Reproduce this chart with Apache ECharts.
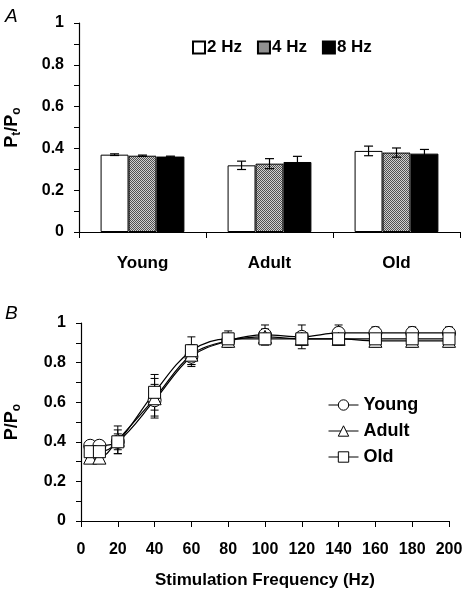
<!DOCTYPE html>
<html><head><meta charset="utf-8">
<script src="https://cdn.jsdelivr.net/npm/echarts@6/dist/echarts.min.js"></script>
<style>html,body{margin:0;padding:0;background:#fff}#c{width:464px;height:591px}</style>
</head><body><div id="c"></div>
<script>
// Panel A data
const groups = ['Young', 'Adult', 'Old'];
const hz2 = [0.370, 0.319, 0.388];
const err2 = [0.004, 0.020, 0.023];
const hz4 = [0.365, 0.327, 0.380];
const err4 = [0.003, 0.024, 0.022];
const hz8 = [0.361, 0.335, 0.375];
const err8 = [0.002, 0.027, 0.020];
const barNames = ['2 Hz', '4 Hz', '8 Hz'];

// Panel B data
const freq = [5, 10, 20, 40, 60, 80, 100, 120, 140, 160, 180, 200];
const young = [0.38, 0.38, 0.40, 0.61, 0.83, 0.91, 0.94, 0.93, 0.95, 0.95, 0.95, 0.95];
const youngErr = [0.02, 0.02, 0.06, 0.08, 0.05, 0.03, 0.05, 0.06, 0.04, 0.03, 0.03, 0.03];
const adult = [0.32, 0.32, 0.41, 0.62, 0.84, 0.91, 0.93, 0.92, 0.92, 0.91, 0.91, 0.91];
const adultErr = [0.02, 0.02, 0.07, 0.10, 0.05, 0.03, 0.04, 0.03, 0.03, 0.03, 0.03, 0.03];
const old = [0.35, 0.35, 0.40, 0.65, 0.86, 0.92, 0.92, 0.92, 0.92, 0.92, 0.92, 0.92];
const oldErr = [0.02, 0.02, 0.04, 0.09, 0.07, 0.04, 0.03, 0.03, 0.03, 0.03, 0.03, 0.03];
const lineNames = ['Young', 'Adult', 'Old'];

const FONT = 'Liberation Sans, Arial, sans-serif';

// dithered grey pattern
const pat = document.createElement('canvas');
pat.width = 2; pat.height = 2;
const pc = pat.getContext('2d');
pc.fillStyle = '#d0d0d0'; pc.fillRect(0, 0, 2, 2);
pc.fillStyle = '#505050'; pc.fillRect(0, 0, 1, 1); pc.fillRect(1, 1, 1, 1);

const chart = echarts.init(document.getElementById('c'), null, {renderer: 'canvas'});

const BAR_GAP_CAT = 0.34;
function barErr(k, vals, errs) {
  return {
    type: 'custom', xAxisIndex: 0, yAxisIndex: 0, silent: true, z: 5,
    data: vals.map((v, i) => [i, v, errs[i]]),
    encode: {x: 0, y: 1},
    renderItem: function (params, api) {
      const i = api.value(0), v = api.value(1), e = api.value(2);
      const catW = api.size([1, 0])[0];
      const bw = catW * (1 - BAR_GAP_CAT) / 3;
      const c = api.coord([i, v]);
      const x = c[0] + (k - 1) * bw;
      const top = api.coord([i, v + e])[1];
      const bot = api.coord([i, v - e])[1];
      const cap = 4.5;
      const st = {stroke: '#000', lineWidth: 1.2};
      return {type: 'group', children: [
        {type: 'line', shape: {x1: x, y1: top, x2: x, y2: bot}, style: st},
        {type: 'line', shape: {x1: x - cap, y1: top, x2: x + cap, y2: top}, style: st},
        {type: 'line', shape: {x1: x - cap, y1: bot, x2: x + cap, y2: bot}, style: st}
      ]};
    }
  };
}
function lineErr(vals, errs) {
  return {
    type: 'custom', xAxisIndex: 1, yAxisIndex: 1, silent: true, z: 3,
    data: vals.map((v, i) => [freq[i], v, errs[i]]),
    encode: {x: 0, y: 1},
    renderItem: function (params, api) {
      const f = api.value(0), v = api.value(1), e = api.value(2);
      const top = api.coord([f, v + e]);
      const bot = api.coord([f, v - e]);
      const x = top[0];
      const cap = 4;
      const st = {stroke: '#000', lineWidth: 1};
      return {type: 'group', children: [
        {type: 'line', shape: {x1: x, y1: top[1], x2: x, y2: bot[1]}, style: st},
        {type: 'line', shape: {x1: x - cap, y1: top[1], x2: x + cap, y2: top[1]}, style: st},
        {type: 'line', shape: {x1: x - cap, y1: bot[1], x2: x + cap, y2: bot[1]}, style: st}
      ]};
    }
  };
}

const axisLineStyle = {show: true, lineStyle: {color: '#000', width: 1.2}};
const labelStyle = {color: '#000', fontFamily: FONT, fontWeight: 'bold', fontSize: 16};

const barColors = ['#ffffff', {image: pat, repeat: 'repeat'}, '#000000'];
const barVals = [hz2, hz4, hz8];
const barErrs = [err2, err4, err8];
const lineVals = [young, adult, old];
const lineErrs = [youngErr, adultErr, oldErr];
const symbols = ['circle', 'triangle', 'rect'];
const symSizes = [13, 13, 12];

const series = [];
barVals.forEach((vals, k) => {
  series.push({
    name: barNames[k], type: 'bar', xAxisIndex: 0, yAxisIndex: 0,
    data: vals, barGap: '0%', barCategoryGap: (BAR_GAP_CAT * 100) + '%',
    itemStyle: {color: barColors[k], borderColor: '#000', borderWidth: 1},
    silent: true
  });
});
barVals.forEach((vals, k) => series.push(barErr(k, vals, barErrs[k])));
lineVals.forEach((vals, k) => series.push(lineErr(vals, lineErrs[k])));
lineVals.forEach((vals, k) => {
  series.push({
    name: lineNames[k], type: 'line', xAxisIndex: 1, yAxisIndex: 1,
    data: vals.map((v, i) => [freq[i], v]),
    smooth: 0.35, symbol: symbols[k], symbolSize: symSizes[k], showSymbol: true,
    lineStyle: {color: '#000', width: 1.2},
    itemStyle: {color: '#fff', borderColor: '#000', borderWidth: 1},
    z: 4, silent: true
  });
});

const subRich = {s: {fontFamily: FONT, fontWeight: 'bold', fontSize: 12, color: '#000', verticalAlign: 'bottom', padding: [9, 0, 0, 0]}};

chart.setOption({
  animation: false,
  backgroundColor: '#fff',
  title: [
    {text: 'A', left: 0, top: 2, textStyle: {fontFamily: FONT, fontStyle: 'italic', fontWeight: 'normal', fontSize: 19, color: '#000'}},
    {text: 'B', left: 0, top: 299, textStyle: {fontFamily: FONT, fontStyle: 'italic', fontWeight: 'normal', fontSize: 19, color: '#000'}}
  ],
  legend: [
    {data: barNames, left: 187, top: 34, itemWidth: 12, itemHeight: 12, itemGap: 15, icon: 'rect',
     textStyle: {fontFamily: FONT, fontWeight: 'bold', fontSize: 17, color: '#000', padding: [0, 0, 0, -3]}},
    {data: lineNames, orient: 'vertical', left: 323, top: 391, itemWidth: 30, itemHeight: 13, itemGap: 8,
     itemStyle: {borderWidth: 1},
     lineStyle: {width: 1},
     textStyle: {fontFamily: FONT, fontWeight: 'bold', fontSize: 18, color: '#000', padding: [0, 0, 0, 0]}}
  ],
  grid: [
    {left: 79, top: 23, right: 4, height: 209, containLabel: false, outerBoundsMode: 'none'},
    {left: 81, top: 323, right: 15, height: 198, containLabel: false, outerBoundsMode: 'none'}
  ],
  xAxis: [
    {type: 'category', gridIndex: 0, data: groups,
     axisLine: axisLineStyle, axisTick: {show: true, length: 6, lineStyle: {color: '#000'}},
     axisLabel: Object.assign({}, labelStyle, {fontSize: 17, margin: 23}), splitLine: {show: false}},
    {type: 'value', gridIndex: 1, min: 0, max: 200, interval: 20,
     axisLine: axisLineStyle, axisTick: {show: true, length: 6, lineStyle: {color: '#000'}},
     axisLabel: Object.assign({}, labelStyle, {fontSize: 16, margin: 21}), splitLine: {show: false},
     name: 'Stimulation Frequency (Hz)', nameLocation: 'middle', nameGap: 51,
     nameTextStyle: {fontFamily: FONT, fontWeight: 'bold', fontSize: 17, color: '#000'}}
  ],
  yAxis: [
    {type: 'value', gridIndex: 0, min: 0, max: 1, interval: 0.2,
     axisLine: axisLineStyle, axisTick: {show: true, inside: false, length: 5, lineStyle: {color: '#000'}},
     minorTick: {show: true, splitNumber: 2, length: 5, lineStyle: {color: '#000'}},
     axisLabel: Object.assign({}, labelStyle, {margin: 15, formatter: v => String(+v.toFixed(1))}),
     splitLine: {show: false},
     name: 'P{s|t}/P{s|o}', nameLocation: 'middle', nameGap: 56, nameRotate: 90,
     nameTextStyle: {fontFamily: FONT, fontWeight: 'bold', fontSize: 18, color: '#000', rich: subRich}},
    {type: 'value', gridIndex: 1, min: 0, max: 1, interval: 0.2,
     axisLine: axisLineStyle, axisTick: {show: true, length: 5, lineStyle: {color: '#000'}},
     minorTick: {show: true, splitNumber: 2, length: 5, lineStyle: {color: '#000'}},
     axisLabel: Object.assign({}, labelStyle, {margin: 15, formatter: v => String(+v.toFixed(1))}),
     splitLine: {show: false},
     name: 'P/P{s|o}', nameLocation: 'middle', nameGap: 58, nameRotate: 90,
     nameTextStyle: {fontFamily: FONT, fontWeight: 'bold', fontSize: 18, color: '#000', rich: subRich}}
  ],
  series: series
});
</script></body></html>
